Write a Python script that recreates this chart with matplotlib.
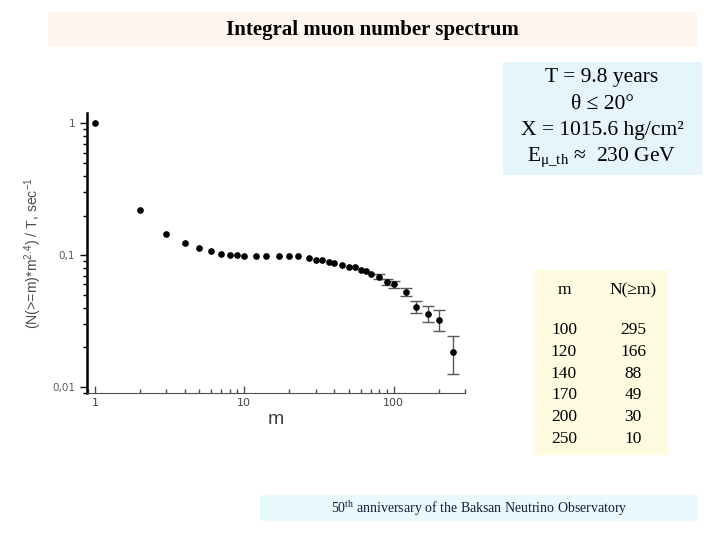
import numpy as np
import matplotlib.pyplot as plt
from matplotlib.patches import Rectangle
from matplotlib.ticker import LogLocator, FixedFormatter, FixedLocator, NullFormatter

plt.rcParams['mathtext.default'] = 'regular'

# muon multiplicity m and (N(>=m)*m^2.4)/T
m = [1, 2, 3, 4, 5, 6, 7, 8, 9, 10, 12, 14, 17, 20, 23, 27, 30, 33, 37, 40,
     45, 50, 55, 60, 65, 70, 80, 90, 100, 120, 140, 170, 200, 250]
rate = [1.0, 0.220, 0.145, 0.123, 0.1136, 0.107, 0.103, 0.101, 0.0996, 0.0988,
        0.0982, 0.0982, 0.0988, 0.0994, 0.0982, 0.0954, 0.0926, 0.0921, 0.0889, 0.0870,
        0.0845, 0.0820, 0.0815, 0.0774, 0.0764, 0.0722, 0.0689, 0.0628, 0.0603, 0.0527,
        0.0404, 0.0359, 0.0324, 0.0185]

# error bars for the high-m points
m_err = [80, 90, 100, 120, 140, 170, 200, 250]
rate_err = [0.0689, 0.0628, 0.0603, 0.0527, 0.0404, 0.0359, 0.0324, 0.0185]
err_hi = [0.0718, 0.0665, 0.0642, 0.0562, 0.0451, 0.0411, 0.0385, 0.0245]
err_lo = [0.0661, 0.0593, 0.0562, 0.0486, 0.0367, 0.0309, 0.0264, 0.0126]

# table
tab_m = ["100", "120", "140", "170", "200", "250"]
tab_n = ["295", "166", "88", "49", "30", "10"]

info_lines = ["T = 9.8 years", "θ ≤ 20°", "X = 1015.6 hg/cm²", "E$_{μ\\_th}$ ≈  230 GeV"]

W, H = 720, 540
fig = plt.figure(figsize=(7.2, 5.4), dpi=100)

def box(x0, y0, x1, y1, color):
    # pixel coords (top-left origin) -> figure fraction
    fig.patches.append(Rectangle((x0 / W, 1 - y1 / H), (x1 - x0) / W, (y1 - y0) / H,
                                 transform=fig.transFigure, facecolor=color,
                                 edgecolor='none', zorder=0))

def ftext(x, y, s, **kw):
    fig.text(x / W, 1 - y / H, s, **kw)

serif = 'Liberation Serif'

# title
box(48, 12, 697, 47, '#fdf5ee')
ftext(372, 30, "Integral muon number spectrum", family=serif, fontweight='bold',
      fontsize=15, ha='center', va='center')

# info box
box(503, 62, 702, 175, '#e6f4fb')
info_y = [78, 104, 131, 157]
for s, yy in zip(info_lines, info_y):
    ftext(602, yy, s, family=serif, fontsize=15.5, ha='center', va='center')

# table box
box(535, 270, 668, 455, '#fefbe0')
ftext(564, 290, "m", family=serif, fontsize=12.5, ha='center', va='center')
ftext(633, 290, "N(≥m)", family=serif, fontsize=12.5, ha='center', va='center')
row_y = [330, 352, 374, 395, 417, 439]
for a, b, yy in zip(tab_m, tab_n, row_y):
    ftext(564, yy, a, family=serif, fontsize=12.5, ha='center', va='center')
    ftext(633, yy, b, family=serif, fontsize=12.5, ha='center', va='center')

# footer
box(260, 495, 698, 521, '#e8fafc')
ftext(479, 509, "50$^{th}$ anniversary of the Baksan Neutrino Observatory",
      family=serif, fontsize=10, ha='center', va='center', color='#1a1a3a')

# plot
ax = fig.add_axes([87 / W, 1 - 393 / H, (465 - 87) / W, (393 - 113) / H])
ax.set_xscale('log')
ax.set_yscale('log')
ax.set_xlim(0.885, 300)
ax.set_ylim(0.009, 1.2)

ax.errorbar(m_err, rate_err,
            yerr=[np.array(rate_err) - np.array(err_lo), np.array(err_hi) - np.array(rate_err)],
            fmt='none', ecolor='0.35', elinewidth=1, capsize=4, capthick=1)
ax.plot(m, rate, 'o', color='black', markersize=3.8, zorder=3)

ax.spines['top'].set_visible(False)
ax.spines['right'].set_visible(False)
ax.spines['left'].set_linewidth(1.8)
ax.spines['bottom'].set_color('0.3')

ax.yaxis.set_major_locator(FixedLocator([0.01, 0.1, 1]))
ax.yaxis.set_major_formatter(FixedFormatter(["0,01", "0,1", "1"]))
ax.yaxis.set_minor_locator(LogLocator(base=10, subs=np.arange(2, 10)))
ax.yaxis.set_minor_formatter(NullFormatter())
ax.xaxis.set_major_locator(FixedLocator([1, 10, 100]))
ax.xaxis.set_major_formatter(FixedFormatter(["1", "10", "100"]))
ax.xaxis.set_minor_locator(LogLocator(base=10, subs=np.arange(2, 10)))
ax.xaxis.set_minor_formatter(NullFormatter())

ax.tick_params(axis='y', which='major', direction='out', length=5, width=1, labelsize=7.5,
               labelcolor='0.35')
ax.tick_params(axis='y', which='minor', direction='out', length=3, width=1)
ax.tick_params(axis='x', which='major', direction='in', length=5, width=1, labelsize=8,
               labelcolor='0.25', color='0.3')
ax.tick_params(axis='x', which='minor', direction='in', length=3, width=1, color='0.3')

ax.set_xlabel("m", family='Liberation Sans', fontsize=14, color='0.25', labelpad=2)
ax.set_ylabel("(N(>=m)*m$^{2.4}$) / T, sec$^{-1}$", family='Liberation Sans',
              fontsize=10.2, color='0.3', labelpad=6)

fig.savefig("out.png", dpi=100)
